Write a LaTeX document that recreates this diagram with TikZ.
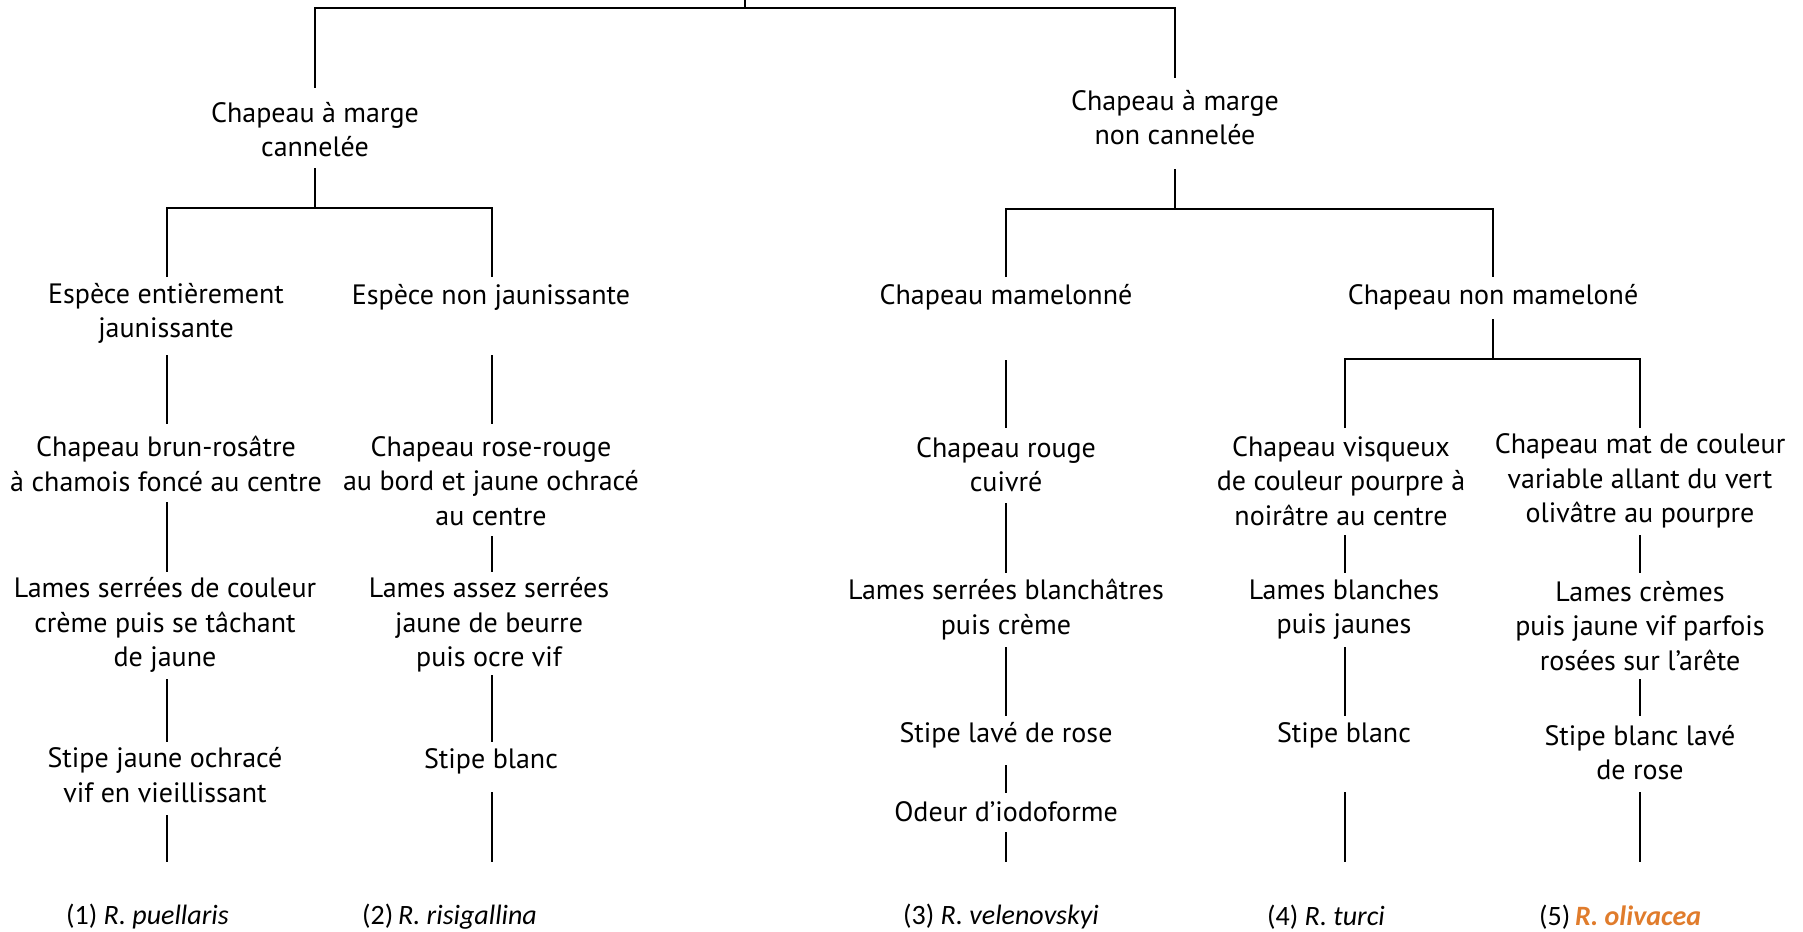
\documentclass[tikz,border=0pt]{standalone}
\usepackage{fontspec}
\setmainfont{PT Sans}
\newfontfamily\labfont{Carlito}
\definecolor{olivorange}{RGB}{224,124,44}
\tikzset{
  txt/.style={align=center, inner sep=0pt, font=\fontsize{28}{34.5}\selectfont},
  lab/.style={anchor=west, inner sep=0pt, font=\labfont\fontsize{28}{30}\selectfont},
  ln/.style={line width=2.4pt, line cap=butt},
}
\begin{document}
\begin{tikzpicture}[x=1pt,y=-1pt]
\useasboundingbox (0,0) rectangle (1803,931);
% text nodes
\node[txt] (a1) at (315,129.5) {Chapeau à marge\\cannelée};
\node[txt] (a2) at (1175,117.5) {Chapeau à marge\\non cannelée};
\node[txt] (b1) at (166,313.5) {Espèce entièrement\\jaunissante};
\node[txt] (b2) at (491,297) {Espèce non jaunissante};
\node[txt] (b3) at (1006,297) {Chapeau mamelonné};
\node[txt] (b4) at (1493,297) {Chapeau non mameloné};
\node[txt] (c1) at (166,464) {Chapeau brun-rosâtre\\à chamois foncé au centre};
\node[txt] (c2) at (491,481) {Chapeau rose-rouge\\au bord et jaune ochracé\\au centre};
\node[txt] (c3) at (1006,464.5) {Chapeau rouge\\cuivré};
\node[txt] (c4) at (1341,481) {Chapeau visqueux\\de couleur pourpre à\\noirâtre au centre};
\node[txt] (c5) at (1640,481) {Chapeau mat de couleur\\variable allant du vert\\olivâtre au pourpre};
\node[txt] (d1) at (165,625) {Lames serrées de couleur\\crème puis se tâchant\\de jaune};
\node[txt] (d2) at (489,625) {Lames assez serrées\\jaune de beurre\\puis ocre vif};
\node[txt] (d3) at (1006,609.5) {Lames serrées blanchâtres\\puis crème};
\node[txt] (d4) at (1344,609.5) {Lames blanches\\puis jaunes};
\node[txt] (d5) at (1640,626) {Lames crèmes\\puis jaune vif parfois\\rosées sur l’arête};
\node[txt] (e1) at (165,775) {Stipe jaune ochracé\\vif en vieillissant};
\node[txt] (e2) at (491,761) {Stipe blanc};
\node[txt] (e3) at (1006,735) {Stipe lavé de rose};
\node[txt] (e3b) at (1006,812) {Odeur d’iodoforme};
\node[txt] (e4) at (1344,735) {Stipe blanc};
\node[txt] (e5) at (1640,752.5) {Stipe blanc lavé\\de rose};
\node[lab] (f1) at (66,917) {(1) \textit{R. puellaris}};
\node[lab] (f2) at (362,917) {(2)\,\textit{R. risigallina}};
\node[lab] (f3) at (903,917) {(3) \textit{R. velenovskyi}};
\node[lab] (f4) at (1267,917) {(4) \textit{R. turci}};
\node[lab] (f5) at (1539,917) {(5)\,\textcolor{olivorange}{\textbf{\textit{R. olivacea}}}};
% connectors
\draw[ln] (745,0) -- (745,8);
\draw[ln] (315,88) -- (315,8) -- (1175,8) -- (1175,78);
\draw[ln] (315,168) -- (315,208);
\draw[ln] (1175,169) -- (1175,209);
\draw[ln] (167,277) -- (167,208) -- (492,208) -- (492,277);
\draw[ln] (1006,277) -- (1006,209) -- (1493,209) -- (1493,277);
\draw[ln] (167,355) -- (167,424);
\draw[ln] (492,355) -- (492,424);
\draw[ln] (1006,360) -- (1006,428);
\draw[ln] (1493,319) -- (1493,359);
\draw[ln] (1345,428) -- (1345,359) -- (1640,359) -- (1640,428);
\draw[ln] (167,502) -- (167,572);
\draw[ln] (492,536) -- (492,572);
\draw[ln] (1006,503) -- (1006,573);
\draw[ln] (1345,535) -- (1345,573);
\draw[ln] (1640,535) -- (1640,573);
\draw[ln] (167,679) -- (167,742);
\draw[ln] (492,675) -- (492,742);
\draw[ln] (1006,647) -- (1006,716);
\draw[ln] (1345,647) -- (1345,716);
\draw[ln] (1640,679) -- (1640,716);
\draw[ln] (167,815) -- (167,862);
\draw[ln] (492,792) -- (492,862);
\draw[ln] (1006,765) -- (1006,793);
\draw[ln] (1006,832) -- (1006,862);
\draw[ln] (1345,792) -- (1345,862);
\draw[ln] (1640,792) -- (1640,862);
\end{tikzpicture}
\end{document}
